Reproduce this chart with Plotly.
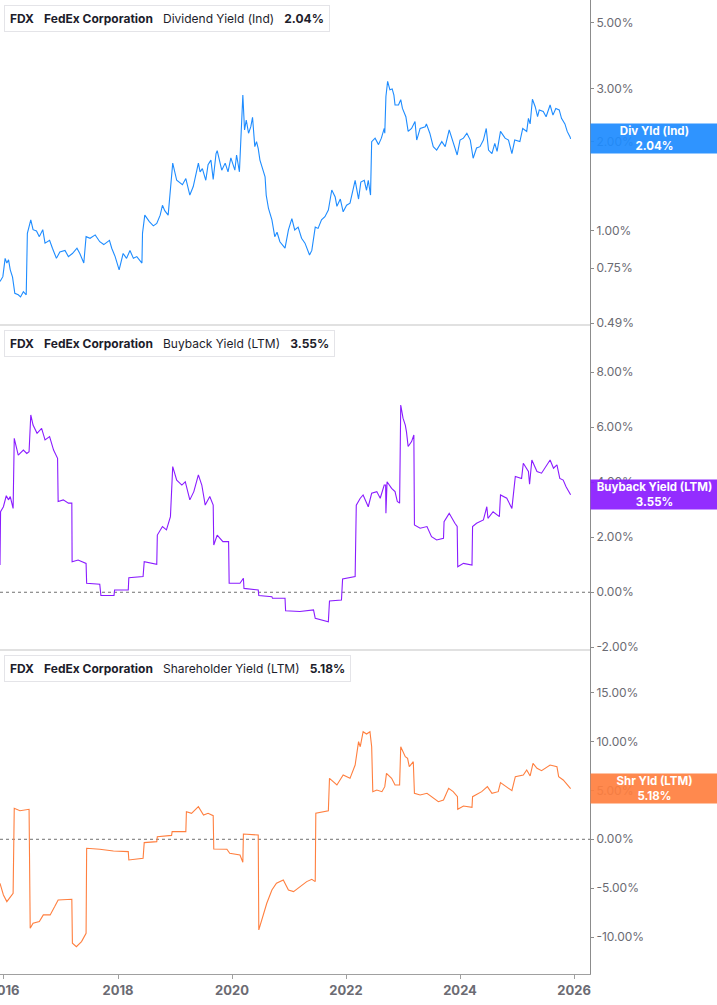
import math
import plotly.graph_objects as go

# ---------------- data (decimal years, values in %) ----------------
div_x = [2015.93, 2015.98, 2016.02, 2016.05, 2016.08, 2016.11, 2016.15, 2016.19, 2016.25, 2016.29,
         2016.34, 2016.39, 2016.41, 2016.47, 2016.51, 2016.57, 2016.62, 2016.68, 2016.72, 2016.80,
         2016.85, 2016.92, 2016.98, 2017.07, 2017.13, 2017.20, 2017.28, 2017.33, 2017.40, 2017.44,
         2017.51, 2017.60, 2017.68, 2017.75, 2017.85, 2017.89, 2017.95, 2018.02, 2018.09, 2018.15,
         2018.21, 2018.27, 2018.33, 2018.42, 2018.43, 2018.47, 2018.55, 2018.62, 2018.68, 2018.74,
         2018.78, 2018.82, 2018.88, 2018.92, 2018.96, 2019.03, 2019.09, 2019.13, 2019.19, 2019.23,
         2019.26, 2019.32, 2019.38, 2019.41, 2019.44, 2019.48, 2019.54, 2019.58, 2019.63, 2019.67,
         2019.72, 2019.74, 2019.82, 2019.88, 2019.93, 2019.98, 2020.05, 2020.08, 2020.13, 2020.15,
         2020.19, 2020.22, 2020.25, 2020.29, 2020.33, 2020.36, 2020.40, 2020.43, 2020.46, 2020.49,
         2020.54, 2020.58, 2020.60, 2020.64, 2020.70, 2020.75, 2020.79, 2020.84, 2020.93, 2020.99,
         2021.05, 2021.10, 2021.16, 2021.22, 2021.28, 2021.36, 2021.40, 2021.46, 2021.51, 2021.57,
         2021.63, 2021.69, 2021.75, 2021.81, 2021.84, 2021.90, 2021.95, 2022.01, 2022.07, 2022.13,
         2022.16, 2022.22, 2022.26, 2022.32, 2022.36, 2022.39, 2022.43, 2022.45, 2022.51, 2022.57,
         2022.62, 2022.67, 2022.68, 2022.70, 2022.73, 2022.77, 2022.81, 2022.84, 2022.86, 2022.92,
         2022.96, 2022.99, 2023.03, 2023.05, 2023.09, 2023.15, 2023.21, 2023.24, 2023.30, 2023.39,
         2023.41, 2023.47, 2023.53, 2023.59, 2023.68, 2023.74, 2023.81, 2023.88, 2023.95, 2024.00,
         2024.06, 2024.12, 2024.18, 2024.23, 2024.29, 2024.35, 2024.41, 2024.46, 2024.50, 2024.56,
         2024.61, 2024.65, 2024.71, 2024.79, 2024.85, 2024.91, 2024.96, 2025.05, 2025.10, 2025.17,
         2025.20, 2025.23, 2025.27, 2025.32, 2025.36, 2025.39, 2025.46, 2025.51, 2025.58, 2025.63,
         2025.68, 2025.74, 2025.78, 2025.84, 2025.88, 2025.93, 2025.94]
div_y = [0.676, 0.702, 0.809, 0.780, 0.800, 0.740, 0.700, 0.617, 0.610, 0.600,
         0.625, 0.610, 0.982, 1.090, 1.010, 1.000, 0.957, 1.010, 0.910, 0.930,
         0.875, 0.809, 0.850, 0.860, 0.820, 0.840, 0.875, 0.840, 0.780, 0.957,
         0.945, 0.970, 0.920, 0.900, 0.930, 0.875, 0.820, 0.740, 0.840, 0.809,
         0.860, 0.809, 0.820, 0.780, 0.982, 1.130, 1.075, 1.040, 1.060, 1.130,
         1.220, 1.170, 1.130, 1.410, 1.690, 1.480, 1.450, 1.430, 1.500, 1.410,
         1.320, 1.410, 1.620, 1.690, 1.580, 1.620, 1.480, 1.670, 1.730, 1.490,
         1.820, 1.860, 1.600, 1.690, 1.580, 1.760, 1.600, 1.800, 1.580, 1.920,
         2.860, 2.185, 2.360, 2.130, 2.240, 2.410, 1.920, 1.996, 1.890, 1.730,
         1.620, 1.520, 1.320, 1.190, 1.090, 0.957, 0.990, 0.920, 0.875, 1.008,
         1.100, 1.008, 1.030, 0.945, 0.910, 0.830, 0.860, 1.030, 1.020, 1.090,
         1.117, 1.176, 1.373, 1.300, 1.210, 1.280, 1.160, 1.220, 1.240, 1.390,
         1.480, 1.280, 1.460, 1.480, 1.370, 1.480, 1.320, 1.996, 2.050, 1.950,
         2.050, 2.210, 2.130, 2.830, 3.180, 2.980, 3.000, 2.860, 2.650, 2.650,
         2.760, 2.580, 2.480, 2.420, 2.160, 2.210, 2.330, 2.020, 2.210, 2.240,
         2.290, 2.130, 1.920, 1.870, 1.996, 1.920, 2.185, 1.996, 1.800, 2.020,
         2.050, 2.130, 2.020, 1.755, 1.900, 1.920, 2.020, 2.210, 1.870, 1.820,
         1.970, 1.850, 2.160, 2.050, 2.020, 1.820, 2.020, 1.996, 2.210, 2.160,
         2.390, 2.290, 2.770, 2.610, 2.420, 2.550, 2.520, 2.420, 2.650, 2.450,
         2.580, 2.550, 2.390, 2.290, 2.160, 2.070, 2.040]

bb_x = [2015.93, 2015.94, 2015.99, 2016.04, 2016.08, 2016.11, 2016.16, 2016.18, 2016.25, 2016.34,
        2016.40, 2016.44, 2016.47, 2016.51, 2016.58, 2016.66, 2016.72, 2016.80, 2016.87, 2016.94,
        2016.95, 2017.04, 2017.13, 2017.19, 2017.195, 2017.30, 2017.44, 2017.45, 2017.68, 2017.70,
        2017.93, 2017.94, 2018.18, 2018.19, 2018.44, 2018.46, 2018.68, 2018.69, 2018.78, 2018.85,
        2018.92, 2018.96, 2019.03, 2019.12, 2019.18, 2019.26, 2019.33, 2019.41, 2019.47, 2019.53,
        2019.61, 2019.67, 2019.68, 2019.74, 2019.84, 2019.94, 2019.95, 2020.14, 2020.20, 2020.21,
        2020.46, 2020.47, 2020.70, 2020.71, 2020.93, 2020.94, 2021.19, 2021.43, 2021.46, 2021.69,
        2021.71, 2021.92, 2021.94, 2022.16, 2022.18, 2022.25, 2022.30, 2022.39, 2022.45, 2022.54,
        2022.60, 2022.67, 2022.695, 2022.70, 2022.72, 2022.80, 2022.86, 2022.90, 2022.94, 2022.96,
        2023.00, 2023.04, 2023.06, 2023.09, 2023.15, 2023.19, 2023.20, 2023.30, 2023.42, 2023.50,
        2023.59, 2023.71, 2023.72, 2023.81, 2023.91, 2023.95, 2023.96, 2024.06, 2024.21, 2024.22,
        2024.29, 2024.41, 2024.47, 2024.49, 2024.58, 2024.69, 2024.71, 2024.82, 2024.91, 2024.97,
        2025.08, 2025.11, 2025.20, 2025.22, 2025.26, 2025.35, 2025.43, 2025.49, 2025.58, 2025.64,
        2025.70, 2025.75, 2025.81, 2025.86, 2025.94]
bb_y = [0.99, 2.93, 3.11, 3.51, 3.36, 3.48, 3.05, 5.60, 4.99, 5.17,
        5.05, 5.11, 6.45, 6.08, 5.78, 5.96, 5.54, 5.66, 5.17, 4.87,
        3.30, 3.36, 3.24, 3.24, 1.11, 1.17, 1.05, 0.33, 0.29, -0.12,
        -0.12, 0.08, 0.08, 0.53, 0.57, 1.11, 1.02, 2.08, 2.39, 2.27,
        2.75, 4.57, 4.08, 3.90, 4.02, 3.36, 3.66, 4.27, 3.90, 3.17,
        3.48, 3.17, 1.72, 2.08, 1.84, 1.84, 0.33, 0.33, 0.51, 0.14,
        0.08, -0.12, -0.16, -0.22, -0.22, -0.67, -0.70, -0.64, -0.95, -1.07,
        -0.32, -0.28, 0.48, 0.57, 3.17, 3.42, 3.54, 3.11, 3.60, 3.66,
        3.42, 3.90, 3.90, 2.87, 4.02, 3.78, 3.66, 3.30, 3.24, 6.81,
        6.33, 6.08, 5.84, 5.30, 5.48, 5.72, 2.45, 2.33, 2.39, 2.02,
        1.90, 1.96, 2.57, 2.87, 2.51, 2.39, 0.93, 1.05, 0.99, 2.39,
        2.51, 2.63, 3.11, 2.69, 2.93, 2.75, 3.54, 3.42, 3.05, 4.21,
        4.14, 4.69, 4.39, 3.93, 4.81, 4.39, 4.33, 4.51, 4.81, 4.51,
        4.63, 4.14, 4.08, 3.84, 3.55]

sh_x = [2015.93, 2015.99, 2016.05, 2016.11, 2016.16, 2016.18, 2016.28, 2016.44, 2016.46, 2016.51,
        2016.62, 2016.69, 2016.81, 2016.89, 2016.95, 2017.19, 2017.20, 2017.27, 2017.36, 2017.44,
        2017.45, 2017.68, 2017.92, 2018.18, 2018.19, 2018.44, 2018.46, 2018.68, 2018.69, 2018.94,
        2018.95, 2019.19, 2019.20, 2019.29, 2019.41, 2019.50, 2019.58, 2019.67, 2019.68, 2019.91,
        2019.96, 2020.14, 2020.19, 2020.20, 2020.46, 2020.47, 2020.55, 2020.61, 2020.70, 2020.78,
        2020.90, 2020.99, 2021.08, 2021.19, 2021.31, 2021.40, 2021.46, 2021.47, 2021.69, 2021.71,
        2021.84, 2021.95, 2022.07, 2022.16, 2022.22, 2022.25, 2022.27, 2022.30, 2022.36, 2022.42,
        2022.45, 2022.47, 2022.54, 2022.63, 2022.68, 2022.71, 2022.80, 2022.86, 2022.94, 2022.96,
        2023.04, 2023.08, 2023.11, 2023.18, 2023.20, 2023.30, 2023.42, 2023.53, 2023.62, 2023.71,
        2023.80, 2023.88, 2023.955, 2023.96, 2024.06, 2024.21, 2024.22, 2024.38, 2024.48, 2024.56,
        2024.67, 2024.71, 2024.82, 2024.91, 2024.97, 2025.11, 2025.17, 2025.23, 2025.28, 2025.35,
        2025.43, 2025.49, 2025.58, 2025.70, 2025.73, 2025.81, 2025.94]
sh_y = [-4.49, -5.68, -6.36, -5.85, -5.51, 3.16, 2.92, 3.06, -9.08, -8.57,
        -8.40, -7.72, -7.72, -6.87, -6.19, -6.12, -10.61, -10.96, -10.44, -9.59,
        -0.92, -1.02, -1.19, -1.26, -2.11, -1.94, -0.34, -0.24, 0.27, 0.40,
        0.78, 0.78, 2.82, 2.65, 3.33, 2.48, 2.65, 2.41, -0.99, -1.02,
        -1.43, -1.60, -2.35, 0.54, 0.44, -9.25, -7.55, -6.53, -5.17, -4.49,
        -4.15, -5.17, -5.34, -4.83, -4.32, -4.08, -4.32, 2.65, 2.92, 6.22,
        5.54, 6.56, 6.22, 7.58, 9.96, 9.45, 10.13, 10.98, 10.74, 10.98,
        9.45, 4.86, 5.03, 4.86, 5.37, 6.73, 6.22, 5.54, 5.54, 9.45,
        8.43, 8.26, 7.41, 7.92, 4.69, 4.52, 4.69, 4.18, 3.84, 4.01,
        5.20, 4.86, 4.35, 3.06, 3.40, 3.26, 4.35, 4.86, 5.37, 4.69,
        4.86, 5.78, 5.37, 4.96, 6.39, 6.56, 7.07, 6.46, 7.75, 7.24,
        7.00, 7.24, 7.58, 7.41, 6.39, 6.05, 5.18]

year_ticks = [2016, 2018, 2020, 2022, 2024, 2026]
div_ticks = [0.49, 0.75, 1.0, 2.0, 3.0, 5.0]
bb_ticks = [-2, 0, 2, 4, 6, 8]
sh_ticks = [-10, -5, 0, 5, 10, 15]

ticker = "FDX"
company = "FedEx Corporation"
panels = [
    dict(name="Dividend Yield (Ind)", short="Div Yld (Ind)", x=div_x, y=div_y, color="#1E8CFF", yaxis="y"),
    dict(name="Buyback Yield (LTM)", short="Buyback Yield (LTM)", x=bb_x, y=bb_y, color="#8A1CFF", yaxis="y2"),
    dict(name="Shareholder Yield (LTM)", short="Shr Yld (LTM)", x=sh_x, y=sh_y, color="#FF7F3F", yaxis="y3"),
]

# ---------------- figure ----------------
W, H = 717, 1005
ML, MR, MT, MB = 0, 127, 0, 31
PW = W - ML - MR
PH = H - MT - MB
b1 = 1 - 325 / PH
b2 = 1 - 650 / PH

fig = go.Figure()
for p in panels:
    fig.add_trace(go.Scatter(x=p["x"], y=p["y"], mode="lines", yaxis=p["yaxis"], xaxis="x",
                             line=dict(color=p["color"], width=1.1), hoverinfo="skip", showlegend=False))

tickfont = dict(family="Inter, Roboto, sans-serif", size=12, color="#6b6b73")
common_y = dict(side="right", anchor="x", showgrid=False, zeroline=False, showline=True,
                linecolor="#8c8c8c", linewidth=1, ticks="outside", ticklen=3, tickcolor="#8c8c8c",
                tickfont=tickfont, fixedrange=True, automargin=False)

fig.update_layout(
    width=W, height=H, margin=dict(l=ML, r=MR, t=MT, b=MB),
    paper_bgcolor="white", plot_bgcolor="white",
    xaxis=dict(range=[2015.93, 2026.28], anchor="y3", showgrid=False, zeroline=False,
               showline=True, linecolor="#a0a0a0", linewidth=1, ticks="outside", ticklen=4,
               tickcolor="#a0a0a0", tickvals=year_ticks, ticktext=[f"<b>{t}</b>" for t in year_ticks],
               ticklabeloverflow="allow", fixedrange=True, automargin=False,
               tickfont=dict(family="Inter, Roboto, sans-serif", size=13, color="#6b6b73")),
    yaxis=dict(common_y, type="log", domain=[b1, 1], range=[-0.316, 0.776],
               tickvals=div_ticks, ticktext=[f"{v:.2f}%" for v in div_ticks]),
    yaxis2=dict(common_y, domain=[b2, b1], range=[-2.10, 9.72],
                tickvals=bb_ticks, ticktext=[f"{v:.2f}%" for v in bb_ticks]),
    yaxis3=dict(common_y, domain=[0, b2], range=[-13.75, 19.32],
                tickvals=sh_ticks, ticktext=[f"{v:.2f}%" for v in sh_ticks]),
)

# panel separators
for yb in (b1, b2):
    fig.add_shape(type="line", xref="paper", yref="paper", x0=0, x1=1, y0=yb, y1=yb,
                  line=dict(color="#c4c4c4", width=1.2), layer="above")

# dotted zero lines
for ya in ("y2", "y3"):
    fig.add_shape(type="line", xref="paper", yref=ya, x0=0, x1=1, y0=0, y1=0,
                  line=dict(color="#707070", width=1, dash="dot"), layer="below")

nbsp = "&nbsp;" * 3
for i, p in enumerate(panels):
    ydom = "y domain" if i == 0 else f"y{i+1} domain"
    last = p["y"][-1]
    # legend box
    fig.add_annotation(xref="paper", yref=ydom, x=4 / PW, y=1 - 5 / 325, xanchor="left", yanchor="top",
                       text=f"<b>{ticker}</b>{nbsp}<b>{company}</b>{nbsp}{p['name']}{nbsp}<b>{last:.2f}%</b>",
                       showarrow=False, align="left", bgcolor="white", bordercolor="#e4e4e8",
                       borderwidth=1, borderpad=5,
                       font=dict(family="Inter, Roboto, sans-serif", size=12, color="#1d1d2b"))
    fig.add_shape(type="rect", xref="paper", yref=ydom, x0=4 / PW, x1=7 / PW,
                  y0=1 - 29 / 325, y1=1 - 6 / 325, fillcolor=p["color"], line=dict(width=0), layer="above")
    # value badge on right axis
    yval = math.log10(last) if i == 0 else last
    fig.add_annotation(xref="paper", yref=p["yaxis"], x=1, y=yval, xanchor="left", yanchor="middle",
                       text=f"<b>{p['short']}</b><br><b>{last:.2f}%</b>", showarrow=False,
                       bgcolor=p["color"], opacity=0.92, width=125, height=27, borderpad=1,
                       align="center",
                       font=dict(family="Inter, Roboto, sans-serif", size=11.5, color="white"))

fig.write_html("out.html", config={"displayModeBar": False, "staticPlot": True},
               post_script="document.body.style.margin='0';document.body.style.overflow='hidden';")
